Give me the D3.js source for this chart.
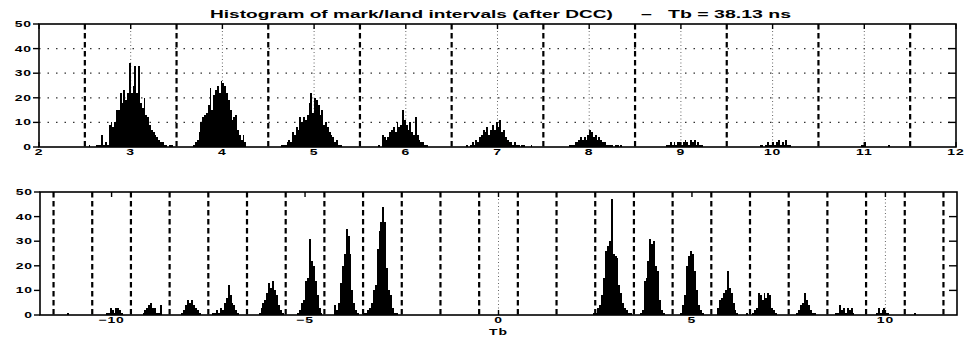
<!DOCTYPE html>
<html>
<head>
<meta charset="utf-8">
<script src="https://cdn.jsdelivr.net/npm/d3@7"></script>
<style>
body { margin: 0; background: #fff; }
text { font-family: "Liberation Sans", Arial, sans-serif; font-weight: bold; fill: #000; }
</style>
</head>
<body>
<svg id="chart" width="966" height="338"></svg>
<script>
// top panel: intervals in Tb (positive only), bins of 0.02 Tb
var topBinWidth = 0.02;
var topStarts = [2.54, 3.68, 4.64, 5.70, 6.66, 7.78, 8.84, 9.86, 10.96, 11.26];
var topCounts = [
	[1,0,0,0,1,1,1,5,1,2,1,9,10,8,10,15,15,22,18,23,19,22,34,22,25,33,22,33,18,16,20,13,12,9,7,6,5,4,3,2,2,1,1,0,1,1],
	[1,2,3,6,10,12,13,14,17,24,15,21,23,25,22,27,26,25,22,19,15,11,12,13,7,5,3,5,2],
	[1,1,1,2,3,2,6,5,8,7,12,10,12,11,13,18,22,14,20,19,17,13,15,9,10,8,6,5,4,2,3,1,1],
	[1,0,5,4,3,4,6,7,8,6,10,8,9,15,11,9,7,10,6,5,12,5,3,2,2,1,1],
	[1,0,1,2,1,3,2,4,5,7,6,8,5,7,9,7,10,8,11,6,7,4,3,2,2,1,2,1,1,0,1,1,0,0,0,1],
	[1,1,1,2,2,3,4,3,4,3,5,7,6,4,5,3,4,3,2,2,1,1,1,1,0,1,1,0,1],
	[1,1,2,1,2,1,2,2,1,2,3,2,1,3,2,3,1,2,1,1],
	[1,1,0,1,2,1,1,2,1,2,3,1,2,1,3,1,1],
	[1,1,2],
	[1]
];
var topTicks = [2, 3, 4, 5, 6, 7, 8, 9, 10, 11, 12];
var topBounds = [2.5, 3.5, 4.5, 5.5, 6.5, 7.5, 8.5, 9.5, 10.5, 11.5];

// bottom panel: signed intervals (mark negative, land positive), bins of 0.05 Tb
var botBinWidth = 0.05;
var botStarts = [-11.15, -10.15, -9.20, -8.20, -7.40, -6.20, -5.20, -4.25, -3.50, 2.45, 3.65, 4.70, 5.65, 6.40, 7.70, 8.70, 9.75, 10.75];
var botCounts = [
	[1],
	[1,1,3,2,1,3,3,2,1],
	[1,2,3,4,5,3,3,1,1,4],
	[1,2,4,6,5,6,4,3,2,1],
	[1,1,2,1,3,2,5,7,12,8,5,4,2,1],
	[1,3,5,6,9,13,11,14,10,8,4,2,1],
	[1,2,5,6,14,15,31,22,20,14,8,3,1],
	[4,2,5,13,20,25,35,32,25,10,5,2,1],
	[1,1,2,3,5,10,12,27,34,38,44,38,19,10,8,3,1,1],
	[1,1,3,4,8,15,26,28,30,47,25,24,23,12,9,5,3,2,1,1],
	[1,2,14,15,22,31,29,30,20,18,6,2,1],
	[1,4,8,20,24,26,25,18,10,4,2,1],
	[3,6,7,9,10,18,11,9,5,2,1],
	[1,0,0,1,2,3,9,8,6,9,7,9,8,3,2,1],
	[1,2,4,5,9,6,4,2,1,1],
	[1,1,4,2,3,1,3,2,3,1],
	[1,3,1,2,3,1,1],
	[1]
];
var botTicks = [-10, -5, 0, 5, 10];
var botBounds = [-11.5, -10.5, -9.5, -8.5, -7.5, -6.5, -5.5, -4.5, -3.5, -2.5, -1.5, -0.5,
	0.5, 1.5, 2.5, 3.5, 4.5, 5.5, 6.5, 7.5, 8.5, 9.5, 10.5, 11.5];

var yTicks = [0, 10, 20, 30, 40, 50];

function Panel(context, box, domainX)
{
	this.svg = context;
	this.box = box;
	this.group = context.append("g");
	this.x = d3.scaleLinear().domain(domainX).range([box.left, box.right]);
	this.y = d3.scaleLinear().domain([0, 50]).range([box.bottom, box.top]);
}

// squashed-wide label like the scanned figure
Panel.prototype.Label = function(px, py, str, anchor, size)
{
	var sx = 1.55;
	return this.group.append("g")
		.attr("transform", "translate(" + px + "," + py + ") scale(" + sx + ",1)")
		.append("text")
			.attr("text-anchor", anchor)
			.style("font-size", (size || 9) + "px")
			.style("letter-spacing", "0.6px")
			.text(str);
}

Panel.prototype.RenderGrid = function(xGrid, yGrid)
{
	var _this = this;
	var b = this.box;
	this.group.selectAll("line.hgrid").data(yGrid).enter()
		.append("line")
			.attr("class", "hgrid")
			.attr("x1", b.left).attr("x2", b.right)
			.attr("y1", function(d) { return _this.y(d); })
			.attr("y2", function(d) { return _this.y(d); })
			.style("stroke", "#333")
			.style("stroke-width", 1.2)
			.style("stroke-dasharray", "1.5,7");
	this.group.selectAll("line.vgrid").data(xGrid).enter()
		.append("line")
			.attr("class", "vgrid")
			.attr("y1", b.top).attr("y2", b.bottom)
			.attr("x1", function(d) { return _this.x(d); })
			.attr("x2", function(d) { return _this.x(d); })
			.style("stroke", "#666")
			.style("stroke-width", 1)
			.style("stroke-dasharray", "1,2.5");
}

Panel.prototype.RenderBounds = function(bounds)
{
	var _this = this;
	var b = this.box;
	this.group.selectAll("line.bound").data(bounds).enter()
		.append("line")
			.attr("class", "bound")
			.attr("y1", b.top).attr("y2", b.bottom)
			.attr("x1", function(d) { return _this.x(d); })
			.attr("x2", function(d) { return _this.x(d); })
			.style("stroke", "#000")
			.style("stroke-width", 2.2)
			.style("stroke-dasharray", "5.5,3.5");
}

Panel.prototype.RenderBars = function(starts, counts, binWidth)
{
	var _this = this;
	var bins = [];
	for(var p = 0; p < starts.length; p++)
	{
		for(var i = 0; i < counts[p].length; i++)
		{
			if(counts[p][i] > 0)
				bins.push({ x0: starts[p] + i * binWidth, x1: starts[p] + (i + 1) * binWidth, n: counts[p][i] });
		}
	}
	// snap bin edges to whole pixels so neighbouring bars abut without seams
	this.group.selectAll("rect.bar").data(bins).enter()
		.append("rect")
			.attr("class", "bar")
			.attr("shape-rendering", "crispEdges")
			.attr("x", function(d) { return Math.round(_this.x(d.x0)); })
			.attr("width", function(d) { return Math.max(1, Math.round(_this.x(d.x1)) - Math.round(_this.x(d.x0))); })
			.attr("y", function(d) { return Math.round(_this.y(d.n)); })
			.attr("height", function(d) { return Math.round(_this.y(0)) - Math.round(_this.y(d.n)); })
			.style("fill", "#000");
}

Panel.prototype.RenderAxes = function(xTicks, xFormat)
{
	var _this = this;
	var b = this.box;
	this.group.append("rect")
		.attr("x", b.left).attr("y", b.top)
		.attr("width", b.right - b.left).attr("height", b.bottom - b.top)
		.style("fill", "none").style("stroke", "#000").style("stroke-width", 1.6);

	// y ticks: outside on the left, inside on the right
	yTicks.forEach(function(t)
	{
		var yy = _this.y(t);
		_this.group.append("line")
			.attr("x1", b.left - 6).attr("x2", b.left).attr("y1", yy).attr("y2", yy)
			.style("stroke", "#000").style("stroke-width", 1.4);
		if(t > 0 && t < 50)
		{
			_this.group.append("line")
				.attr("x1", b.right - 8).attr("x2", b.right).attr("y1", yy).attr("y2", yy)
				.style("stroke", "#000").style("stroke-width", 1.4);
		}
		_this.Label(b.left - 7, yy + 3, String(t), "end");
	});

	xTicks.forEach(function(t)
	{
		var xx = _this.x(t);
		_this.group.append("line")
			.attr("x1", xx).attr("x2", xx).attr("y1", b.top).attr("y2", b.top + 5)
			.style("stroke", "#000").style("stroke-width", 1.4);
		_this.group.append("line")
			.attr("x1", xx).attr("x2", xx).attr("y1", b.bottom - 5).attr("y2", b.bottom)
			.style("stroke", "#000").style("stroke-width", 1.4);
		_this.Label(xx, b.bottom + 8, xFormat(t), "middle");
	});
}

var svg = d3.select("#chart");

var topPanel = new Panel(svg, { left: 39, right: 956, top: 24, bottom: 147 }, [2, 12]);
topPanel.RenderGrid(topTicks.slice(1, -1), [10, 20, 30, 40]);
topPanel.RenderBounds(topBounds);
topPanel.RenderBars(topStarts, topCounts, topBinWidth);
topPanel.RenderAxes(topTicks, function(d) { return String(d); });

var botPanel = new Panel(svg, { left: 40, right: 957, top: 192, bottom: 315 }, [-11.85, 11.85]);
botPanel.RenderGrid([0, 10], []);
botPanel.RenderBounds(botBounds);
botPanel.RenderBars(botStarts, botCounts, botBinWidth);
botPanel.RenderAxes(botTicks, function(d) { return d < 0 ? "\u2212" + Math.abs(d) : String(d); });

// titles, stretched to the width they take in the figure
svg.append("text")
	.attr("x", 210).attr("y", 18)
	.attr("textLength", 403).attr("lengthAdjust", "spacingAndGlyphs")
	.style("font-size", "10px")
	.text("Histogram of mark/land intervals (after DCC)");
svg.append("text")
	.attr("x", 641).attr("y", 18)
	.attr("textLength", 150).attr("lengthAdjust", "spacingAndGlyphs")
	.style("font-size", "10px")
	.style("white-space", "pre")
	.text("\u2013   Tb = 38.13 ns");

botPanel.Label(botPanel.x(0), 335, "Tb", "middle");
</script>
</body>
</html>
